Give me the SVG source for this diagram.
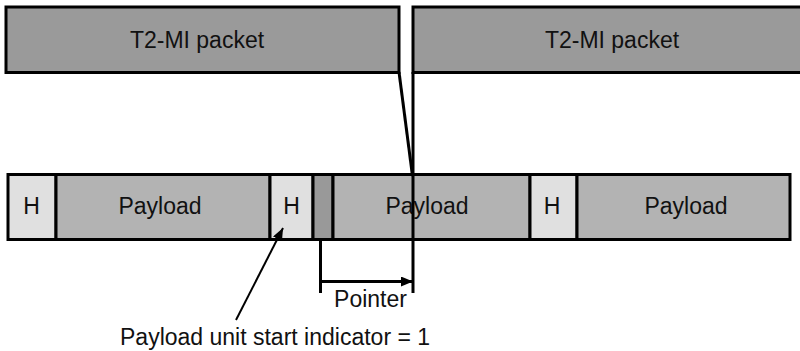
<svg xmlns="http://www.w3.org/2000/svg" width="800" height="351" viewBox="0 0 800 351">
<style>
.box{stroke:#000;stroke-width:3}
.pkt{fill:#9a9a9a}
.hdr{fill:#e0e0e0}
.pay{fill:#b3b3b3}
.ptr{fill:#999999}
text{font-family:"Liberation Sans",Arial,sans-serif;font-size:23px;fill:#111;text-anchor:middle}
.ln{stroke:#000;stroke-width:3;fill:none}
.thin{stroke:#000;stroke-width:2;fill:none}
</style>
<defs>
<marker id="ah" markerWidth="12" markerHeight="10" refX="12" refY="5" orient="auto" markerUnits="userSpaceOnUse">
<path d="M0,0 L12,5 L0,10 Z" fill="#000"/>
</marker>
</defs>
<g id="packet1"><rect class="box pkt" x="6" y="7" width="393" height="65.5"/><text x="197" y="48">T2-MI packet</text></g>
<g id="packet2"><rect class="box pkt" x="413" y="7" width="400" height="65.5"/><text x="612" y="48">T2-MI packet</text></g>
<g id="h1"><rect class="box hdr" x="8" y="174.5" width="48" height="65"/><text x="31.5" y="214">H</text></g>
<g id="payload1"><rect class="box pay" x="56" y="174.5" width="214" height="65"/><text x="160" y="214">Payload</text></g>
<g id="h2"><rect class="box hdr" x="270" y="174.5" width="43" height="65"/><text x="291.5" y="214">H</text></g>
<g id="pointerfield"><rect class="box ptr" x="313" y="174.5" width="20" height="65"/></g>
<g id="payload2"><rect class="box pay" x="333" y="174.5" width="197" height="65"/><text x="427" y="214">Payload</text></g>
<g id="h3"><rect class="box hdr" x="530" y="174.5" width="47" height="65"/><text x="552" y="214">H</text></g>
<g id="payload3"><rect class="box pay" x="577" y="174.5" width="213" height="65"/><text x="686" y="214">Payload</text></g>
<g id="connectors">
<line class="ln" x1="399" y1="72" x2="412.5" y2="176"/>
<line class="ln" x1="413" y1="72" x2="413" y2="293"/>
<line class="ln" x1="320.5" y1="240" x2="320.5" y2="293"/>
<line class="ln" x1="320.5" y1="281.5" x2="413" y2="281.5" marker-end="url(#ah)"/>
<line class="thin" x1="236" y1="320" x2="283" y2="228" marker-end="url(#ah)"/>
</g>
<g id="labels">
<text x="370.5" y="307">Pointer</text>
<text x="120" y="345" style="text-anchor:start">Payload unit start indicator = 1</text>
</g>
</svg>
